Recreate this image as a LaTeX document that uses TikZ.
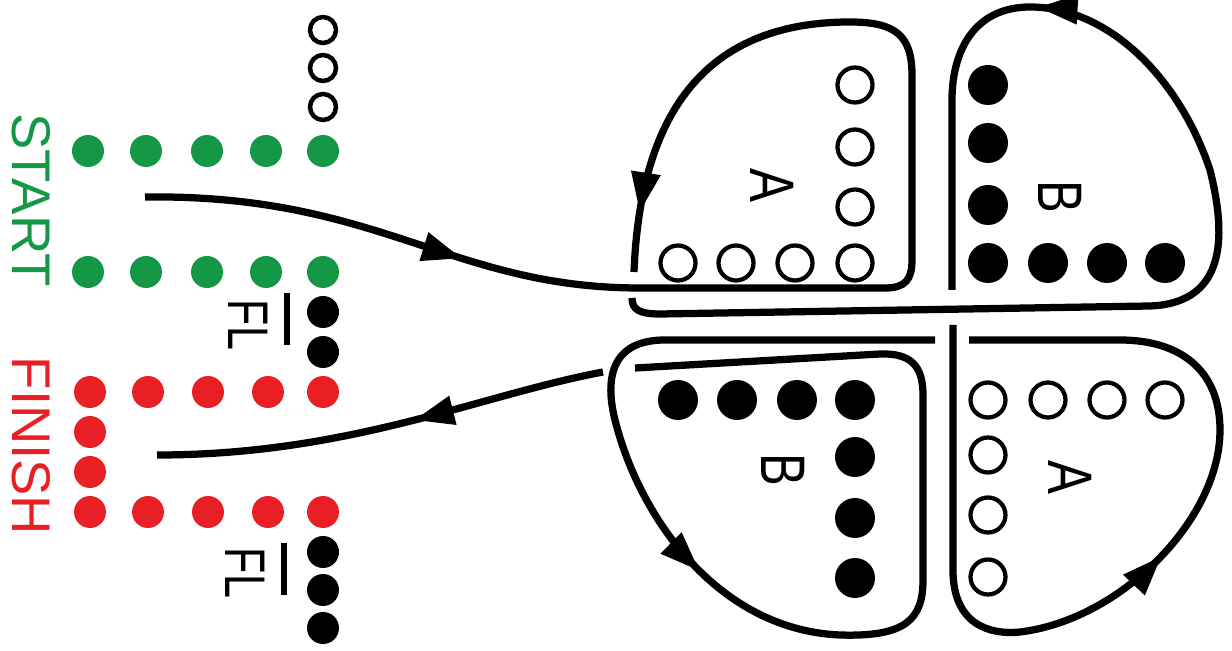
\documentclass[tikz,border=0pt]{standalone}
\usepackage{tikz}
\usepackage{xcolor}
\usepackage{fontspec}
\setmainfont{Liberation Sans}
\usetikzlibrary{arrows.meta,decorations.markings}

\definecolor{startgreen}{RGB}{20,152,70}
\definecolor{finishred}{RGB}{232,32,38}

\tikzset{
	flow/.tip={Triangle[length=0.8cm,width=0.56cm]},
	lane/.style={line width=0.145cm},
	arrowat/.style={postaction={decorate,decoration={markings,mark=at position #1 with {\arrow{flow}}}}},
	ring/.style={circle,draw,line width=0.085cm,minimum size=0.7cm,inner sep=0pt},
	smallring/.style={circle,draw,line width=0.09cm,minimum size=0.52cm,inner sep=0pt},
	bigdot/.style={circle,fill=black,minimum size=0.8cm,inner sep=0pt},
	gdot/.style={circle,fill=startgreen,minimum size=0.64cm,inner sep=0pt},
	rdot/.style={circle,fill=finishred,minimum size=0.64cm,inner sep=0pt},
	kdot/.style={circle,fill=black,minimum size=0.64cm,inner sep=0pt},
	side/.style={rotate=-90,inner sep=0pt,font=\fontsize{31}{36}\selectfont},
	flab/.style={rotate=-90,inner sep=0pt,font=\fontsize{32.6}{36}\selectfont},
	lobe/.style={rotate=-90,inner sep=0pt,font=\fontsize{35.8}{40}\selectfont},
	flbar/.style={line width=0.12cm}
}

\begin{document}
\begin{tikzpicture}[x=0.02cm,y=-0.02cm]
	\useasboundingbox (0,0) rectangle (1232,651);

	\node[side,text=startgreen] (start) at (31,200) {START};
	\node[side,text=finishred] (finish) at (31,446) {FINISH};

	\node[smallring] (t1) at (323,30) {};
	\node[smallring] (t2) at (323,68) {};
	\node[smallring] (t3) at (323,107) {};

	\node[gdot] (g1) at (88,151) {};
	\node[gdot] (g2) at (146,151) {};
	\node[gdot] (g3) at (207,151) {};
	\node[gdot] (g4) at (266,151) {};
	\node[gdot] (g5) at (323,151) {};
	\node[gdot] (g6) at (88,272) {};
	\node[gdot] (g7) at (146,272) {};
	\node[gdot] (g8) at (207,272) {};
	\node[gdot] (g9) at (266,272) {};
	\node[gdot] (g10) at (323,272) {};

	\node[kdot] (k1) at (323,312) {};
	\node[kdot] (k2) at (323,352) {};
	\node[flab] (fl1) at (248,325) {\scalebox{0.75}[1]{FL}};
	\draw[flbar] (fl1.north) ++(19,-32) -- ++(0,52);

	\node[rdot] (r1) at (90,392) {};
	\node[rdot] (r2) at (148,392) {};
	\node[rdot] (r3) at (208,392) {};
	\node[rdot] (r4) at (268,392) {};
	\node[rdot] (r5) at (323,392) {};
	\node[rdot] (r6) at (90,432) {};
	\node[rdot] (r7) at (90,472) {};
	\node[rdot] (r8) at (90,512) {};
	\node[rdot] (r9) at (148,512) {};
	\node[rdot] (r10) at (208,512) {};
	\node[rdot] (r11) at (268,512) {};
	\node[rdot] (r12) at (323,512) {};

	\node[kdot] (k3) at (323,552) {};
	\node[kdot] (k4) at (323,590) {};
	\node[kdot] (k5) at (323,628) {};
	\node[flab] (fl2) at (245,573) {\scalebox{0.75}[1]{FL}};
	\draw[flbar] (fl2.north) ++(19,-30) -- ++(0,52);

	\node[ring] (a1) at (855,85) {};
	\node[ring] (a2) at (855,147) {};
	\node[ring] (a3) at (855,207) {};
	\node[ring] (a4) at (855,263) {};
	\node[ring] (a5) at (795,263) {};
	\node[ring] (a6) at (736,263) {};
	\node[ring] (a7) at (678,263) {};
	\node[lobe] (alab1) at (772,185) {\scalebox{0.81}[1]{A}};

	\node[bigdot] (b1) at (988,85) {};
	\node[bigdot] (b2) at (988,143) {};
	\node[bigdot] (b3) at (988,205) {};
	\node[bigdot] (b4) at (988,263) {};
	\node[bigdot] (b5) at (1048,263) {};
	\node[bigdot] (b6) at (1107,263) {};
	\node[bigdot] (b7) at (1165,263) {};
	\node[lobe] (blab1) at (1060,197) {\scalebox{0.78}[1]{B}};

	\node[bigdot] (b8) at (678,400) {};
	\node[bigdot] (b9) at (737,400) {};
	\node[bigdot] (b10) at (797,400) {};
	\node[bigdot] (b11) at (855,400) {};
	\node[bigdot] (b12) at (855,457) {};
	\node[bigdot] (b13) at (855,518) {};
	\node[bigdot] (b14) at (855,578) {};
	\node[lobe] (blab2) at (783,470) {\scalebox{0.78}[1]{B}};

	\node[ring] (a8) at (988,400) {};
	\node[ring] (a9) at (1048,400) {};
	\node[ring] (a10) at (1107,400) {};
	\node[ring] (a11) at (1165,400) {};
	\node[ring] (a12) at (988,455) {};
	\node[ring] (a13) at (988,515) {};
	\node[ring] (a14) at (988,577) {};
	\node[lobe] (alab2) at (1070,477) {\scalebox{0.81}[1]{A}};

	\draw[lane,arrowat=6.5cm,arrowat=-1.2cm] (145,197) .. controls (380,194) and (450,288) .. (640,288) -- (885,288) .. controls (905,288) and (912,280) .. (912,260) -- (912,75) .. controls (912,35) and (895,22) .. (850,22) .. controls (700,22) and (640,120) .. (634,272);
	\draw[lane,arrowat=-6.7cm] (632,298) .. controls (632,310) and (640,314) .. (660,314) -- (1150,306) .. controls (1230,303) and (1225,230) .. (1210,170) .. controls (1180,80) and (1110,7) .. (1030,7) .. controls (975,7) and (952,50) .. (952,100) -- (952,290);
	\draw[lane,arrowat=10.3cm] (953,325) -- (953,570) .. controls (953,625) and (990,635) .. (1020,632) .. controls (1120,620) and (1220,520) .. (1220,430) .. controls (1220,370) and (1180,340) .. (1120,340) -- (969,340);
	\draw[lane,arrowat=11.2cm] (935,340) -- (665,340) .. controls (610,340) and (605,380) .. (615,420) .. controls (640,520) and (720,630) .. (840,635) .. controls (905,637) and (923,620) .. (923,580) -- (923,395) .. controls (923,365) and (910,353) .. (880,354) -- (635,368);
	\draw[lane,arrowat=3.9cm] (603,372) .. controls (480,395) and (350,455) .. (157,455);
\end{tikzpicture}
\end{document}
